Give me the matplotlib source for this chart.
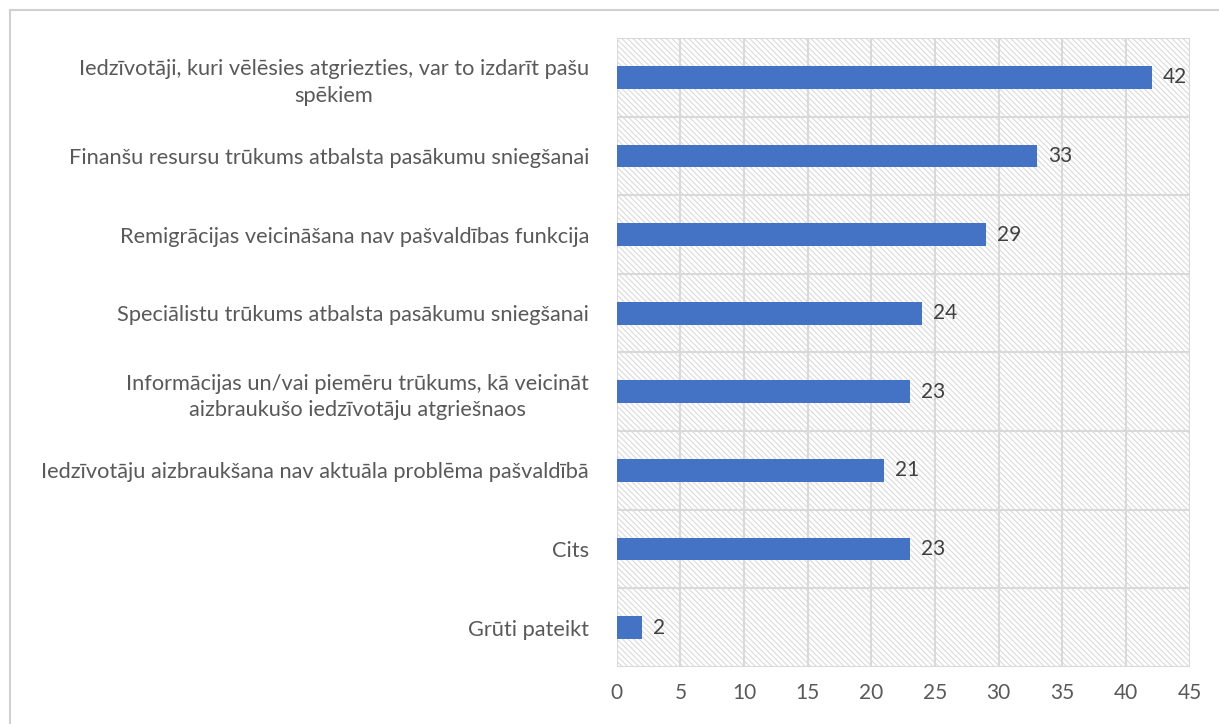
import matplotlib.pyplot as plt
from matplotlib.patches import Rectangle
import numpy as np

plt.rcParams['font.family'] = ['Lato', 'DejaVu Sans']
plt.rcParams['hatch.color'] = '#dadada'
plt.rcParams['hatch.linewidth'] = 0.8

labels = ['Iedzīvotāji, kuri vēlēsies atgriezties, var to izdarīt pašu\nspēkiem',
          'Finanšu resursu trūkums atbalsta pasākumu sniegšanai',
          'Remigrācijas veicināšana nav pašvaldības funkcija',
          'Speciālistu trūkums atbalsta pasākumu sniegšanai',
          'Informācijas un/vai piemēru trūkums, kā veicināt\naizbraukušo iedzīvotāju atgriešnaos',
          'Iedzīvotāju aizbraukšana nav aktuāla problēma pašvaldībā',
          'Cits',
          'Grūti pateikt']
values = [42, 33, 29, 24, 23, 21, 23, 2]

txt = '#595959'
grid = '#d9d9d9'

fig = plt.figure(figsize=(12.19, 7.24), dpi=100)
ax = fig.add_axes([0.506, 0.079, 0.47, 0.8685])

# outer chart border
fig.patches.append(Rectangle((10/1219, -0.05), 1.2, 1 - 10/724 + 0.05,
                             transform=fig.transFigure, fill=False,
                             edgecolor='#d0d0d0', linewidth=1.5))

# hatched plot area background
ax.add_patch(Rectangle((0, 0), 1, 1, transform=ax.transAxes, facecolor='white',
                       hatch='\\\\\\\\\\\\', edgecolor='#dadada', linewidth=0, zorder=0))

y = np.arange(len(values))
ax.barh(y, values, height=0.29, color='#4472c4', zorder=3)
for yi, v in zip(y, values):
    ax.annotate(str(v), (v, yi), xytext=(8, 0), textcoords='offset points',
                va='center', ha='left', fontsize=15, color='#404040')

ax.set_xlim(0, 45)
ax.set_ylim(len(values) - 0.5, -0.5)
ax.set_xticks(np.arange(0, 46, 5))
ax.set_yticks(y)
ax.set_yticklabels(labels, multialignment='center', linespacing=1.4)
ax.tick_params(axis='y', length=0, pad=20, labelsize=15.7, labelcolor=txt)
ax.tick_params(axis='x', length=0, pad=12, labelsize=15, labelcolor=txt)

# grid lines: vertical at ticks, horizontal at category boundaries
for xv in np.arange(0, 46, 5):
    ax.axvline(xv, color=grid, linewidth=1.5, zorder=1)
for yb in np.arange(-0.5, len(values), 1):
    ax.axhline(yb, color=grid, linewidth=1.5, zorder=1)

for s in ax.spines.values():
    s.set_visible(False)

fig.savefig('out.png', dpi=100)
